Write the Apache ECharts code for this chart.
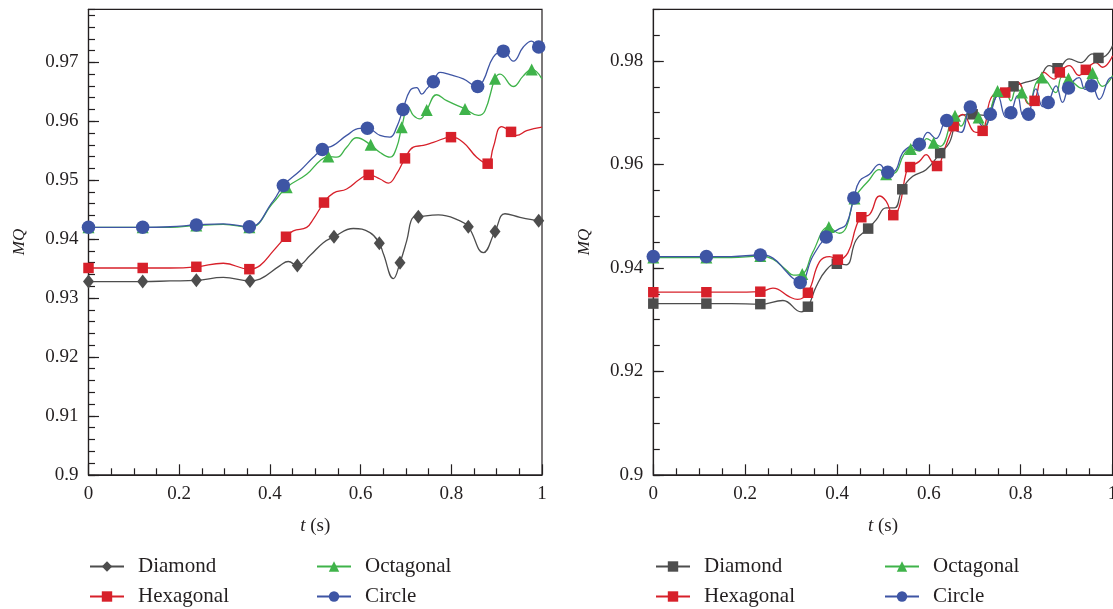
<!DOCTYPE html>
<html><head><meta charset="utf-8">
<script src="https://cdn.jsdelivr.net/npm/echarts@6/dist/echarts.min.js"></script>
<style>html,body{margin:0;padding:0;background:#fff}#c{width:1113px;height:609px}</style>
</head><body><div id="c"></div>
<script>
// ---------- data ----------
const seriesNames = ['Diamond', 'Hexagonal', 'Octagonal', 'Circle'];
const xTickLabels = [0, 0.2, 0.4, 0.6, 0.8, 1];

// Left panel: marker points and intermediate curve points [t, MQ]
const leftDiamondMarks = [[0,0.9328],[0.1195,0.9328],[0.2378,0.9330],[0.3561,0.9329],[0.4605,0.9355],[0.5413,0.9404],[0.6413,0.9393],[0.6869,0.9360],[0.7273,0.9438],[0.8375,0.9421],[0.8964,0.9413],[0.9927,0.9431]];
const leftDiamondCurve = [[0.06,0.9328],[0.18,0.9329],[0.2973,0.9335],[0.378,0.9332],[0.4223,0.9355],[0.4406,0.9362],[0.4884,0.9372],[0.5178,0.9394],[0.584,0.9418],[0.6207,0.9411],[0.6502,0.9375],[0.6722,0.9333],[0.7016,0.9397],[0.7163,0.9437],[0.7714,0.9441],[0.8192,0.9431],[0.8706,0.9377],[0.9184,0.9443],[0.9515,0.9437],[1.0,0.9430]];

const leftHexMarks = [[0,0.9351],[0.1195,0.9351],[0.2378,0.9353],[0.3547,0.9349],[0.4355,0.9404],[0.5193,0.9462],[0.6178,0.9509],[0.6979,0.9537],[0.7993,0.9573],[0.8802,0.9528],[0.9317,0.9582]];
const leftHexCurve = [[0.06,0.9351],[0.18,0.9351],[0.2973,0.9359],[0.378,0.9355],[0.4075,0.9380],[0.4517,0.9414],[0.4811,0.9420],[0.4958,0.9434],[0.5399,0.9478],[0.5693,0.9485],[0.5987,0.9502],[0.6428,0.9502],[0.6612,0.9495],[0.6796,0.9511],[0.7163,0.9556],[0.7384,0.9559],[0.7604,0.9564],[0.8265,0.9564],[0.8559,0.9539],[0.8926,0.9556],[0.911,0.9591],[0.9442,0.9576],[0.9662,0.9584],[1.0,0.9590]];

const leftOctMarks = [[0,0.9420],[0.1195,0.9420],[0.2378,0.9423],[0.3547,0.9420],[0.4370,0.9488],[0.5288,0.9540],[0.6222,0.9560],[0.6906,0.9590],[0.7457,0.9619],[0.8302,0.9621],[0.8964,0.9672],[0.9772,0.9688]];
const leftOctCurve = [[0.06,0.9420],[0.18,0.9420],[0.2973,0.9425],[0.4075,0.9462],[0.4811,0.9510],[0.5105,0.9533],[0.5473,0.9539],[0.5693,0.9556],[0.5914,0.9572],[0.6428,0.9547],[0.6648,0.9539],[0.6796,0.9556],[0.7052,0.9624],[0.7163,0.9610],[0.731,0.9604],[0.7678,0.9645],[0.7899,0.9635],[0.8596,0.9610],[0.8743,0.9618],[0.9074,0.9680],[0.9367,0.9659],[0.9588,0.9677],[1.0,0.9672]];

const leftCircMarks = [[0,0.9420],[0.1195,0.9420],[0.2378,0.9424],[0.3547,0.9421],[0.4296,0.9491],[0.5156,0.9552],[0.6149,0.9588],[0.6935,0.9620],[0.7604,0.9667],[0.8581,0.9659],[0.9147,0.9719],[0.9927,0.9726]];
const leftCircCurve = [[0.06,0.9420],[0.18,0.9421],[0.2973,0.9426],[0.4075,0.9465],[0.4664,0.9516],[0.4958,0.9539],[0.5399,0.9559],[0.5693,0.9576],[0.5987,0.9588],[0.6428,0.9576],[0.6648,0.9573],[0.6796,0.9590],[0.7089,0.9652],[0.7237,0.9657],[0.7347,0.9646],[0.7457,0.9655],[0.7751,0.9683],[0.7971,0.9679],[0.8265,0.9672],[0.8706,0.9669],[0.8926,0.9709],[0.9367,0.9702],[0.9588,0.9726],[0.9772,0.9736],[1.0,0.9726]];

// Right panel
const rightDiamondMarks = [[0,0.9331],[0.1156,0.9331],[0.233,0.9330],[0.3366,0.9325],[0.3996,0.9408],[0.4678,0.9476],[0.5421,0.9552],[0.6246,0.9622],[0.6953,0.9697],[0.7844,0.9751],[0.8801,0.9786],[0.9692,0.9806]];
const rightDiamondCurve = [[0.06,0.9331],[0.17,0.9331],[0.2822,0.9337],[0.3221,0.9315],[0.3547,0.9364],[0.3765,0.9396],[0.42,0.9406],[0.4417,0.9454],[0.4852,0.9493],[0.5069,0.9516],[0.525,0.9516],[0.5649,0.9577],[0.5939,0.9590],[0.6446,0.9642],[0.6663,0.9694],[0.72,0.9695],[0.7533,0.9739],[0.8113,0.9759],[0.8402,0.9768],[0.862,0.9791],[0.9054,0.9804],[0.9308,0.9797],[0.9561,0.9814],[0.9852,0.9810],[1.0,0.9830]];

const rightHexMarks = [[0,0.9353],[0.1156,0.9353],[0.233,0.9354],[0.3366,0.9352],[0.4018,0.9416],[0.4529,0.9498],[0.5225,0.9502],[0.5591,0.9595],[0.6178,0.9597],[0.6540,0.9674],[0.7170,0.9665],[0.7663,0.9739],[0.8301,0.9723],[0.8851,0.9778],[0.9417,0.9783]];
const rightHexCurve = [[0.06,0.9353],[0.17,0.9353],[0.2605,0.9361],[0.2967,0.9344],[0.3140,0.9339],[0.362,0.9412],[0.3837,0.9422],[0.4236,0.9429],[0.4417,0.9480],[0.4707,0.9503],[0.4924,0.9539],[0.5069,0.9529],[0.5359,0.9519],[0.5504,0.9584],[0.5793,0.9606],[0.5939,0.9619],[0.6083,0.9603],[0.635,0.9632],[0.6735,0.9697],[0.7026,0.9662],[0.7387,0.9733],[0.7931,0.9759],[0.8185,0.9717],[0.8511,0.9778],[0.8728,0.9765],[0.9054,0.9791],[0.9272,0.9772],[0.9634,0.9797],[0.9779,0.9788],[1.0,0.9810]];

const rightOctMarks = [[0,0.9420],[0.1156,0.9420],[0.233,0.9423],[0.3243,0.9388],[0.3822,0.9479],[0.438,0.9534],[0.5069,0.9581],[0.5605,0.9630],[0.6104,0.9642],[0.6569,0.9694],[0.7083,0.9691],[0.7496,0.9742],[0.8025,0.9739],[0.8460,0.9768],[0.9040,0.9766],[0.9562,0.9777]];
const rightOctCurve = [[0.06,0.9420],[0.17,0.9420],[0.2605,0.9417],[0.2895,0.9396],[0.305,0.9386],[0.347,0.9430],[0.405,0.9467],[0.42,0.9478],[0.47,0.9570],[0.492,0.9590],[0.525,0.9583],[0.545,0.9618],[0.58,0.9626],[0.595,0.9650],[0.625,0.9635],[0.6699,0.9674],[0.69,0.9704],[0.7207,0.9674],[0.765,0.9745],[0.7786,0.9723],[0.79,0.9745],[0.8185,0.9717],[0.833,0.9757],[0.8765,0.9739],[0.89,0.9770],[0.9344,0.9747],[0.9779,0.9751],[1.0,0.9772]];

const rightCircMarks = [[0,0.9422],[0.1156,0.9422],[0.233,0.9425],[0.3199,0.9372],[0.3765,0.9460],[0.4366,0.9535],[0.5105,0.9585],[0.5793,0.9639],[0.6388,0.9685],[0.6902,0.9711],[0.7337,0.9697],[0.7786,0.9700],[0.8170,0.9697],[0.8598,0.9720],[0.9040,0.9748],[0.9540,0.9752]];
const rightCircCurve = [[0.06,0.9422],[0.17,0.9422],[0.2605,0.9419],[0.2895,0.9393],[0.304,0.9380],[0.347,0.9422],[0.4018,0.9474],[0.42,0.9484],[0.449,0.9568],[0.4707,0.9581],[0.4924,0.9600],[0.525,0.9587],[0.543,0.9623],[0.5613,0.9636],[0.598,0.9662],[0.615,0.9650],[0.655,0.9668],[0.670,0.9662],[0.710,0.9681],[0.721,0.9671],[0.750,0.9733],[0.768,0.9691],[0.793,0.9733],[0.806,0.9693],[0.833,0.9746],[0.848,0.9712],[0.877,0.9752],[0.891,0.9720],[0.927,0.9768],[0.940,0.9745],[0.971,0.9726],[0.996,0.9768],[1.0,0.9768]];

// ---------- styling ----------
const FONT = 'Liberation Serif';
const INK = '#231f20';
const colors = { Diamond: '#4d4d4d', Hexagonal: '#d7202a', Octagonal: '#3fb34a', Circle: '#3e55a4' };

function merged(marks, curve) {
  return marks.concat(curve).slice().sort((a, b) => a[0] - b[0]);
}

const panels = [
  { grid: 0, prefix: '', yMax: 0.979, yInt: 0.01, yMinor: 0.002,
    sets: { Diamond: [leftDiamondMarks, leftDiamondCurve, 'diamond', [11, 14]],
            Hexagonal: [leftHexMarks, leftHexCurve, 'rect', 10.5],
            Octagonal: [leftOctMarks, leftOctCurve, 'triangle', 12],
            Circle: [leftCircMarks, leftCircCurve, 'circle', 13.5] } },
  { grid: 1, prefix: 'R\u00b7', yMax: 0.99, yInt: 0.02, yMinor: 0.005,
    sets: { Diamond: [rightDiamondMarks, rightDiamondCurve, 'rect', 10.5],
            Hexagonal: [rightHexMarks, rightHexCurve, 'rect', 10.5],
            Octagonal: [rightOctMarks, rightOctCurve, 'triangle', 12],
            Circle: [rightCircMarks, rightCircCurve, 'circle', 13.5] } }
];

const grids = [
  { left: 88.5, top: 9.3, width: 453.5, height: 465.5 },
  { left: 653.3, top: 9.3, width: 459.3, height: 465.5 }
];

const xAxes = [], yAxes = [], lineSeries = [], markSeries = [];
panels.forEach((p, gi) => {
  xAxes.push({
    type: 'value', gridIndex: gi, min: 0, max: 1, interval: 0.2,
    name: '{it|t} (s)', nameLocation: 'middle', nameGap: 42,
    nameTextStyle: { fontFamily: FONT, fontSize: 19, color: INK,
      rich: { it: { fontFamily: FONT, fontSize: 19, fontStyle: 'italic', color: INK } } },
    axisLine: { show: true, lineStyle: { color: INK, width: 1.2 } },
    axisTick: { show: true, inside: true, length: 10.5, lineStyle: { color: INK, width: 1.2 } },
    minorTick: { show: true, splitNumber: 4, length: 6.5, lineStyle: { color: INK, width: 1.2 } },
    axisLabel: { fontFamily: FONT, fontSize: 19, color: INK, margin: 10, hideOverlap: false,
      formatter: v => String(xTickLabels.find(t => Math.abs(t - v) < 1e-9) ?? '') },
    splitLine: { show: false }, minorSplitLine: { show: false }
  });
  yAxes.push({
    type: 'value', gridIndex: gi, min: 0.9, max: p.yMax, interval: p.yInt,
    name: 'MQ', nameLocation: 'middle', nameGap: 60,
    nameTextStyle: { fontFamily: FONT, fontSize: 17, fontStyle: 'italic', color: INK },
    axisLine: { show: true, lineStyle: { color: INK, width: 1.2 } },
    axisTick: { show: true, inside: true, length: 10.5, lineStyle: { color: INK, width: 1.2 } },
    axisLabel: { fontFamily: FONT, fontSize: 19, color: INK, margin: 10, showMaxLabel: false,
      formatter: v => v.toFixed(2).replace(/0$/, '') },
    splitLine: { show: false }
  });
  yAxes.push({
    type: 'value', gridIndex: gi, min: 0.9, max: p.yMax, interval: p.yMinor, position: 'left',
    axisLine: { show: false }, axisLabel: { show: false }, splitLine: { show: false },
    axisTick: { show: true, inside: true, length: 6.5, lineStyle: { color: INK, width: 1.2 } }
  });
  seriesNames.forEach(n => {
    const [marks, curve, sym, size] = p.sets[n];
    lineSeries.push({
      type: 'line', name: p.prefix + n, xAxisIndex: gi, yAxisIndex: gi * 2,
      data: merged(marks, curve), smooth: 0.45, showSymbol: false, symbol: sym,
      lineStyle: { color: colors[n], width: 1.3 }, itemStyle: { color: colors[n] },
      silent: true, z: 2
    });
    markSeries.push({
      type: 'scatter', name: p.prefix + n, xAxisIndex: gi, yAxisIndex: gi * 2,
      data: marks, symbol: sym, symbolSize: size,
      itemStyle: { color: colors[n], opacity: 1 }, silent: true, z: 3
    });
  });
});

function legend(names, left) {
  return {
    data: names, orient: 'vertical', left: left, top: 556, height: 80, padding: 0,
    itemWidth: 34, itemHeight: 13, itemGap: 9, selectedMode: false,
    formatter: nm => nm.replace('R\u00b7', ''),
    textStyle: { fontFamily: FONT, fontSize: 21, color: INK, lineHeight: 21, padding: [0, 0, 0, 9] }
  };
}

const chart = echarts.init(document.getElementById('c'), null, { renderer: 'canvas' });
chart.setOption({
  animation: false,
  backgroundColor: '#fff',
  grid: grids.map(g => Object.assign({ show: true, borderColor: INK, borderWidth: 1.2, backgroundColor: 'transparent', containLabel: false, outerBoundsMode: 'none' }, g)),
  xAxis: xAxes,
  yAxis: yAxes,
  legend: [
    legend(['Diamond', 'Hexagonal'], 89),
    legend(['Octagonal', 'Circle'], 316),
    legend(['R\u00b7Diamond', 'R\u00b7Hexagonal'], 655),
    legend(['R\u00b7Octagonal', 'R\u00b7Circle'], 884)
  ],
  series: lineSeries.concat(markSeries)
});
</script>
</body></html>
